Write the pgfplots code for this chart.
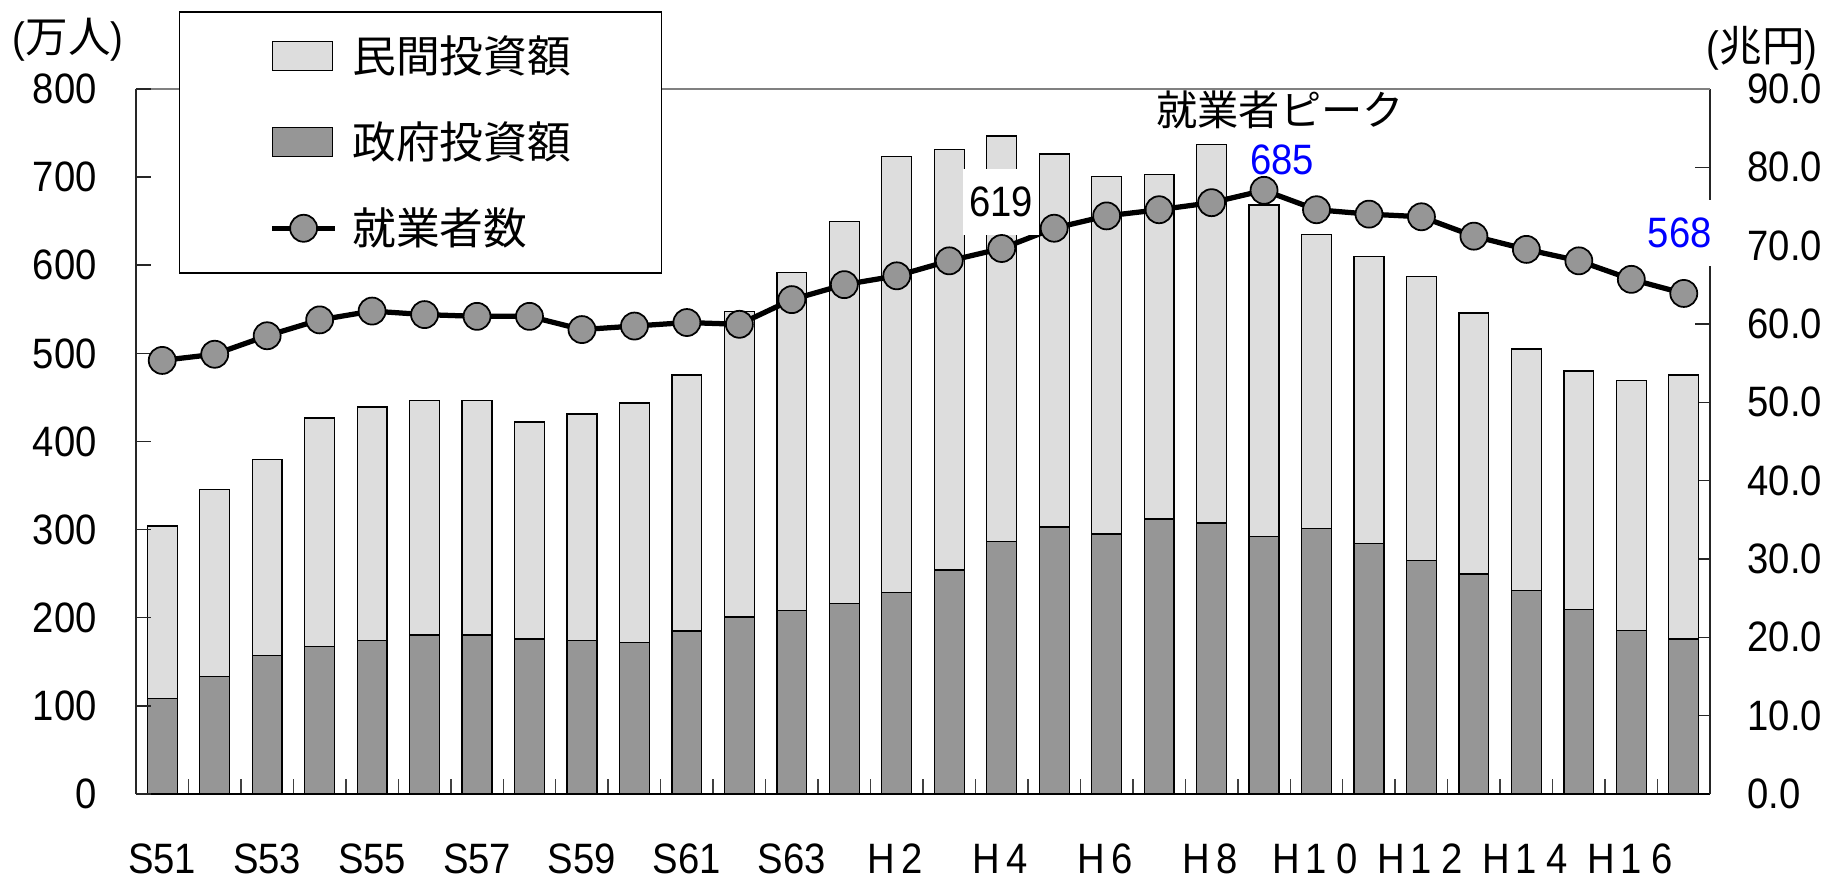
\documentclass[border=0pt]{standalone}
\usepackage{fontspec}
\setmainfont{Liberation Sans}[FakeStretch=0.9]
\newfontfamily\jp{Noto Sans CJK JP}
\usepackage{pgfplots}
\usepackage{pgfplotstable}
\pgfplotsset{compat=1.18}

\definecolor{govgray}{RGB}{150,150,150}
\definecolor{privgray}{RGB}{221,221,221}
\definecolor{markgray}{RGB}{150,150,150}

% spaced characters for the Heisei year labels
\newcommand\hc[1]{\makebox[12.2pt]{#1}}

% legend images
\pgfplotsset{
  box legend/.style={legend image code/.code={%
    \draw[draw=black, line width=0.5pt, fill=#1] (0pt,-5.8pt) rectangle (24pt,5.8pt);
    \path (30pt,0pt);}},
  emp legend/.style={legend image code/.code={%
    \draw[mark repeat=2, mark phase=2, ##1] plot coordinates {(0pt,0pt) (12.5pt,0pt) (25pt,0pt)};
    \path (31pt,0pt);}},
}

% idx: year (S51 ... H17); gov, priv: investment (trillion yen); emp: workers (10k persons)
\pgfplotstableread{
idx gov priv emp
0  12.2 22.0 492
1  15.0 23.9 499
2  17.7 25.0 520
3  18.8 29.2 538
4  19.6 29.8 548
5  20.3 29.9 544
6  20.3 29.9 542
7  19.8 27.7 542
8  19.6 28.9 527
9  19.3 30.6 531
10 20.8 32.7 535
11 22.6 39.0 533
12 23.4 43.2 561
13 24.3 48.8 578
14 25.7 55.7 588
15 28.6 53.7 605
16 32.2 51.8 619
17 34.1 47.6 642
18 33.2 45.6 656
19 35.1 44.0 663
20 34.6 48.3 671
21 32.9 42.3 685
22 33.9 37.5 663
23 32.0 36.6 658
24 29.8 36.3 655
25 28.1 33.3 633
26 26.0 30.8 618
27 23.6 30.4 605
28 20.9 31.9 584
29 19.8 33.7 568
}\datatable

\begin{document}
\begin{tikzpicture}[font=\fontsize{17}{17}\selectfont]
\useasboundingbox (-54.4pt,-34.8pt) rectangle (678.4pt,317.6pt);

% investment bars on the right-hand scale
\begin{axis}[
  scale only axis, width=629.6pt, height=282pt,
  at={(0,0)}, anchor=south west,
  xmin=-0.5, xmax=29.5, ymin=0, ymax=90,
  axis x line*=bottom, axis y line*=right,
  ybar stacked, bar width=0.57,
  xtick={0,2,...,28},
  xticklabels={S51,S53,S55,S57,S59,S61,S63,\hc{H}\hc{2},\hc{H}\hc{4},\hc{H}\hc{6},\hc{H}\hc{8},\hc{H}\hc{1}\hc{0},\hc{H}\hc{1}\hc{2},\hc{H}\hc{1}\hc{4},\hc{H}\hc{1}\hc{6}},
  minor xtick={0.5,1.5,...,28.5},
  ytick={0,10,...,90},
  yticklabels={0.0,10.0,20.0,30.0,40.0,50.0,60.0,70.0,80.0,90.0},
  tick align=inside,
  major tick length=5.9pt, minor tick length=5.9pt,
  major x tick style={draw=none},
  minor x tick style={black!75, line width=0.6pt},
  ytick style={black!85, line width=0.6pt},
  x axis line style={black, line width=0.8pt, -},
  y axis line style={black!85, line width=0.6pt, -},
  tick label style={font=\fontsize{17}{17}\selectfont},
  xticklabel style={anchor=north, inner sep=0pt, yshift=-19.8pt},
  yticklabel style={anchor=west, inner sep=0pt, xshift=14.8pt},
  clip=false,
]
\addplot[fill=govgray, draw=black, line width=0.5pt] table[x=idx, y=gov] {\datatable};
\addplot[fill=privgray, draw=black, line width=0.5pt] table[x=idx, y=priv] {\datatable};
\draw[gray, line width=0.8pt] (rel axis cs:0,1) -- (rel axis cs:1,1);
\end{axis}

% employed persons on the left-hand scale
\begin{axis}[
  scale only axis, width=629.6pt, height=282pt,
  at={(0,0)}, anchor=south west,
  xmin=-0.5, xmax=29.5, ymin=0, ymax=800,
  hide x axis,
  axis y line*=left,
  ytick={0,100,...,800},
  yticklabels={0,100,200,300,400,500,600,700,800},
  tick align=inside,
  major tick length=5.9pt,
  ytick style={black!85, line width=0.6pt},
  y axis line style={black!85, line width=0.6pt, -},
  tick label style={font=\fontsize{17}{17}\selectfont},
  yticklabel style={anchor=east, inner sep=0pt, xshift=-15.5pt},
  clip=false,
  legend cell align=left,
  legend style={
    at={(0.02732,1.1106)}, anchor=north west,
    draw=black, line width=0.6pt, fill=white,
    inner xsep=36pt, inner ysep=0.6pt,
    row sep=0pt,
    nodes={inner sep=0pt, minimum height=34.4pt},
    font=\jp\fontsize{17.5}{17.5}\selectfont,
  },
]
\addlegendimage{box legend=privgray}
\addlegendentry{民間投資額}
\addlegendimage{box legend=govgray}
\addlegendentry{政府投資額}
\addplot[black, line width=2.1pt, mark=*, mark size=5.4pt,
  mark options={fill=markgray, draw=black, line width=0.7pt}, emp legend]
  table[x=idx, y=emp] {\datatable};
\addlegendentry{就業者数}

\node[fill=white, inner xsep=2.5pt, inner ysep=7.3pt, xshift=-0.3pt, yshift=18.6pt] at (axis cs:16,619) {619};
\node[text=blue, inner sep=0pt, xshift=7.2pt, yshift=12.1pt] at (axis cs:21,685) {685};
\node[font=\jp\fontsize{16.5}{16.5}\selectfont, inner sep=0pt, xshift=6.4pt, yshift=32.2pt] at (axis cs:21,685) {就業者ピーク};
\node[text=blue, fill=white, inner xsep=2pt, inner ysep=7.1pt, xshift=-1.6pt, yshift=24.2pt] at (axis cs:29,568) {568};

\node[inner sep=0pt, xshift=-27.2pt, yshift=19.6pt] at (rel axis cs:0,1) {({\jp 万人})};
\node[inner sep=0pt, xshift=20.8pt, yshift=16.4pt] at (rel axis cs:1,1) {({\jp 兆円})};
\end{axis}
\end{tikzpicture}
\end{document}
